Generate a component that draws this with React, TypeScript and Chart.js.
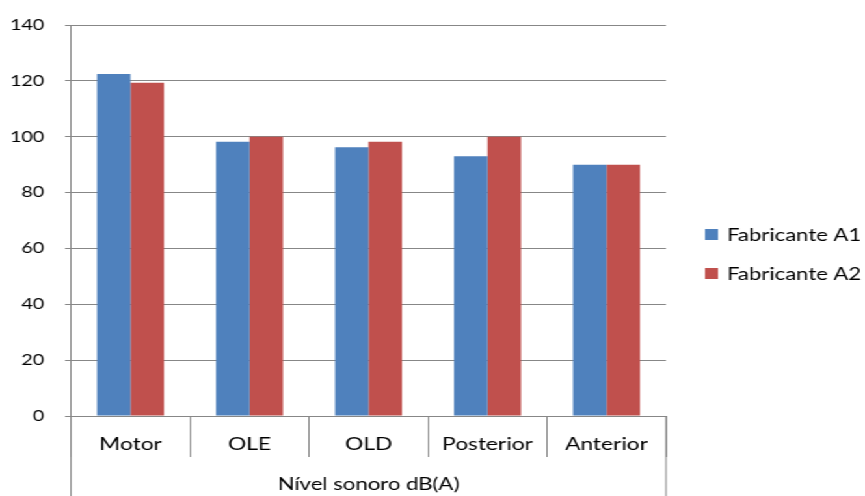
import React, { useEffect, useRef } from "react";
import { Chart, registerables } from "chart.js";

Chart.register(...registerables);

const categories = ["Motor", "OLE", "OLD", "Posterior", "Anterior"];
const seriesNames = ["Fabricante A1", "Fabricante A2"];
const fabricanteA1 = [122.5, 98.2, 96.2, 93, 90];
const fabricanteA2 = [119.3, 100, 98.2, 100, 90];
const yMin = 0;
const yMax = 140;
const yStep = 20;
const groupLabel = "Nível sonoro dB(A)";

const colors = ["#4F81BD", "#C0504D"];
const gridColor = "#878787";
const FONT = "Lato, 'Open Sans', sans-serif";

const OUT_W = 865;
const H = 496;
const IN_W = 665;
const SX = OUT_W / IN_W;

export default function App() {
  const ref = useRef<HTMLCanvasElement | null>(null);

  useEffect(() => {
    if (!ref.current) return;
    const extras = {
      id: "extras",
      afterDraw(chart: any) {
        const ctx = chart.ctx as CanvasRenderingContext2D;
        const a = chart.chartArea;
        ctx.save();
        ctx.strokeStyle = gridColor;
        ctx.lineWidth = 1;
        ctx.beginPath();
        ctx.moveTo(a.left, a.bottom);
        ctx.lineTo(a.left, H);
        ctx.moveTo(a.right, a.bottom);
        ctx.lineTo(a.right, H);
        ctx.stroke();
        ctx.fillStyle = "#000";
        ctx.font = `17px ${FONT}`;
        ctx.textAlign = "center";
        ctx.textBaseline = "middle";
        ctx.fillText(groupLabel, (a.left + a.right) / 2, 485);
        const lx = 705 / SX;
        const tx = 727 / SX;
        const ys = [234.5, 273.5];
        ctx.font = `17px ${FONT}`;
        ctx.textAlign = "left";
        seriesNames.forEach((name, i) => {
          ctx.fillStyle = colors[i];
          ctx.fillRect(lx, ys[i] - 5.5, 13 / SX, 11);
          ctx.fillStyle = "#000";
          ctx.fillText(name, tx, ys[i] + 1);
        });
        ctx.restore();
      },
    };

    const chart = new Chart(ref.current, {
      type: "bar",
      data: {
        labels: categories,
        datasets: [
          {
            label: seriesNames[0],
            data: fabricanteA1,
            backgroundColor: colors[0],
            borderWidth: 0,
            categoryPercentage: 0.563,
            barPercentage: 1,
          },
          {
            label: seriesNames[1],
            data: fabricanteA2,
            backgroundColor: colors[1],
            borderWidth: 0,
            categoryPercentage: 0.563,
            barPercentage: 1,
          },
        ],
      },
      options: {
        responsive: false,
        animation: false,
        devicePixelRatio: 1,
        layout: { padding: { top: 21, right: IN_W - 666 / SX, bottom: 0, left: 0 } },
        plugins: {
          legend: { display: false },
          tooltip: { enabled: false },
          title: { display: false },
        },
        scales: {
          x: {
            type: "category",
            offset: true,
            grid: {
              offset: true,
              drawOnChartArea: false,
              drawTicks: true,
              tickLength: 41,
              color: gridColor,
            },
            border: { display: true, color: gridColor },
            ticks: {
              color: "#000",
              font: { family: FONT, size: 17.5 },
              padding: -23,
              maxRotation: 0,
              autoSkip: false,
            },
            afterFit: (s: any) => {
              s.height = 80;
            },
          },
          y: {
            min: yMin,
            max: yMax,
            ticks: {
              stepSize: yStep,
              color: "#000",
              font: { family: FONT, size: 15 },
              padding: 16,
            },
            grid: { color: gridColor, tickLength: 6 / SX },
            border: { display: true, color: gridColor },
            afterFit: (s: any) => {
              s.width = 71 / SX;
            },
          },
        },
      },
      plugins: [extras],
    });
    return () => chart.destroy();
  }, []);

  return (
    <div
      style={{
        position: "absolute",
        left: 0,
        top: 0,
        width: IN_W,
        height: H,
        transform: `scaleX(${SX})`,
        transformOrigin: "0 0",
        background: "#fff",
      }}
    >
      <canvas ref={ref} width={IN_W} height={H} />
    </div>
  );
}
